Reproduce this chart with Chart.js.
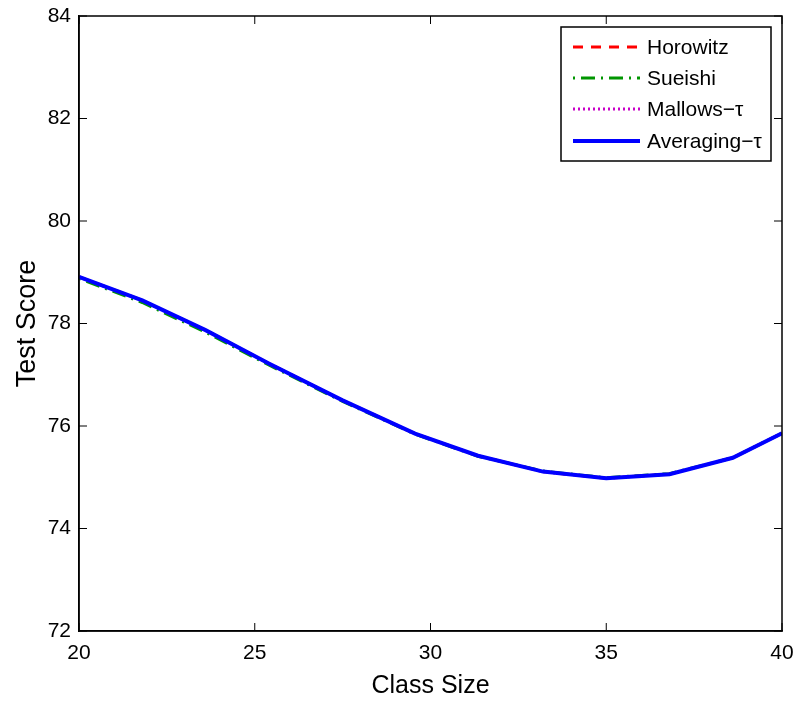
<!DOCTYPE html>
<html>
<head>
<meta charset="utf-8">
<script src="https://cdn.jsdelivr.net/npm/chart.js@4"></script>
<style>
  html, body { margin: 0; padding: 0; background: #fff; }
  #wrap { width: 797px; height: 701px; }
</style>
</head>
<body>
<div id="wrap"><canvas id="myChart" width="797" height="701"></canvas></div>
<script>
// values
const classSize = [20, 21.8, 23.6, 25.4, 27.5, 29.56, 31.35, 33.2, 35.0, 36.8, 38.6, 40];
const horowitz  = [78.91, 78.45, 77.87, 77.22, 76.50, 75.85, 75.42, 75.11, 74.98, 75.06, 75.38, 75.86];
const sueishi   = [78.88, 78.41, 77.83, 77.19, 76.48, 75.84, 75.41, 75.12, 74.99, 75.07, 75.38, 75.86];
const mallows   = [78.91, 78.45, 77.87, 77.22, 76.50, 75.85, 75.42, 75.11, 74.98, 75.06, 75.38, 75.86];
const averaging = [78.91, 78.45, 77.87, 77.22, 76.50, 75.85, 75.42, 75.11, 74.98, 75.06, 75.38, 75.86];

const FONT = '"Liberation Sans", Arial, Helvetica, sans-serif';

const series = [
  { label: 'Horowitz',    data: horowitz,  color: 'rgb(255,0,0)',   dash: [10, 8],        width: 3, order: 3 },
  { label: 'Sueishi',     data: sueishi,   color: 'rgb(0,150,0)',   dash: [2, 6, 14, 6],  width: 3, order: 2 },
  { label: 'Mallows−τ',   data: mallows,   color: 'rgb(200,0,200)', dash: [2, 3],         width: 3, order: 1 },
  { label: 'Averaging−τ', data: averaging, color: 'rgb(0,0,255)',   dash: [],             width: 4, order: 0 },
];

// MATLAB style box, inward ticks and legend
const matlabBox = {
  id: 'matlabBox',
  afterDraw(chart) {
    const { ctx, chartArea: a, scales } = chart;
    ctx.save();
    ctx.strokeStyle = '#000';
    ctx.lineWidth = 1.5;
    ctx.strokeRect(a.left, a.top, a.right - a.left, a.bottom - a.top);
    const tl = 8;
    ctx.lineWidth = 1;
    ctx.beginPath();
    scales.x.ticks.forEach(t => {
      const px = scales.x.getPixelForValue(t.value);
      ctx.moveTo(px, a.bottom); ctx.lineTo(px, a.bottom - tl);
      ctx.moveTo(px, a.top); ctx.lineTo(px, a.top + tl);
    });
    scales.y.ticks.forEach(t => {
      const py = scales.y.getPixelForValue(t.value);
      ctx.moveTo(a.left, py); ctx.lineTo(a.left + tl, py);
      ctx.moveTo(a.right, py); ctx.lineTo(a.right - tl, py);
    });
    ctx.stroke();

    // legend
    const bx = 561, by = 27, bw = 210, bh = 134;
    ctx.fillStyle = '#fff';
    ctx.fillRect(bx, by, bw, bh);
    ctx.lineWidth = 1.5;
    ctx.strokeRect(bx, by, bw, bh);
    ctx.font = '21px ' + FONT;
    ctx.textBaseline = 'middle';
    ctx.textAlign = 'left';
    const rows = [47, 78, 109, 141];
    series.forEach((s, i) => {
      const y = rows[i];
      ctx.strokeStyle = s.color;
      ctx.lineWidth = s.width;
      ctx.setLineDash(s.dash);
      ctx.beginPath();
      ctx.moveTo(573, y); ctx.lineTo(640, y);
      ctx.stroke();
      ctx.setLineDash([]);
      ctx.fillStyle = '#000';
      ctx.fillText(s.label, 647, y + 1);
    });
    ctx.restore();
  }
};

const ctx = document.getElementById('myChart').getContext('2d');
const myChart = new Chart(ctx, {
  type: 'line',
  data: {
    datasets: series.map(s => ({
      label: s.label,
      data: classSize.map((x, i) => ({ x: x, y: s.data[i] })),
      borderColor: s.color,
      borderDash: s.dash,
      borderWidth: s.width,
      pointRadius: 0,
      fill: false,
      tension: 0,
      order: s.order,
    })),
  },
  options: {
    responsive: false,
    animation: false,
    layout: { padding: { top: 16, right: 15, bottom: 0, left: 11 } },
    plugins: { legend: { display: false }, tooltip: { enabled: false } },
    scales: {
      x: {
        type: 'linear',
        min: 20,
        max: 40,
        afterFit: s => { s.height = 70; s.paddingLeft = 0; s.paddingRight = 0; },
        ticks: { stepSize: 5, color: '#000', padding: 10, font: { family: FONT, size: 21 } },
        grid: { drawOnChartArea: false, drawTicks: false },
        border: { color: '#000', width: 1.5 },
        title: { display: true, text: 'Class Size', color: '#000', padding: 0, font: { family: FONT, size: 25 } },
      },
      y: {
        min: 72,
        max: 84,
        afterFit: s => { s.width = 68; s.paddingTop = 0; s.paddingBottom = 0; },
        ticks: { stepSize: 2, color: '#000', padding: 8, font: { family: FONT, size: 21 } },
        grid: { drawOnChartArea: false, drawTicks: false },
        border: { color: '#000', width: 1.5 },
        title: { display: true, text: 'Test Score', color: '#000', padding: 0, font: { family: FONT, size: 27 } },
      },
    },
  },
  plugins: [matlabBox],
});
</script>
</body>
</html>
